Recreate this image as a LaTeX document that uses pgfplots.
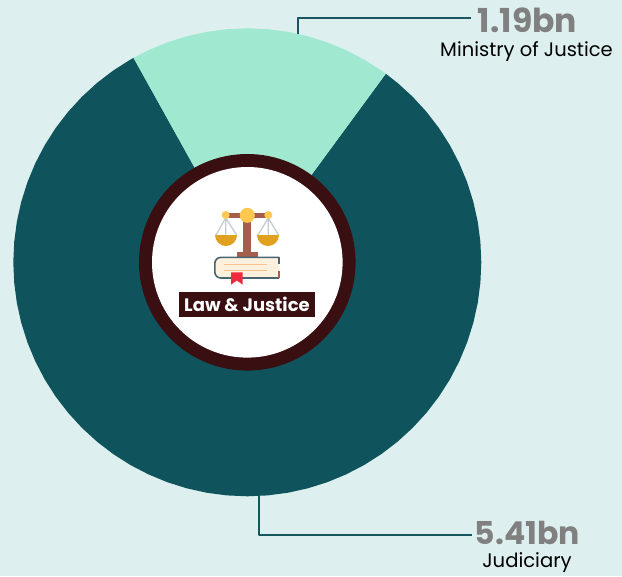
\documentclass[border=0pt]{standalone}
\usepackage{pgfplots}
\pgfplotsset{compat=1.18}
\usepgfplotslibrary{polar}
\usepackage{fontspec}
\setmainfont{Poppins}
\definecolor{bgc}{HTML}{DDF0EF}
\definecolor{darkw}{HTML}{0F545C}
\definecolor{lightw}{HTML}{A0E9D0}
\definecolor{ringc}{HTML}{3A0F12}
\definecolor{leadc}{HTML}{14575F}
\definecolor{numc}{HTML}{808080}
\definecolor{brownc}{HTML}{A65E4C}
\definecolor{goldc}{HTML}{FFC850}
\definecolor{panc}{HTML}{E0A020}
\definecolor{stringc}{HTML}{C5CCD3}
\definecolor{slatec}{HTML}{4A6572}
\definecolor{pagec}{HTML}{FDF0DC}
\definecolor{linec}{HTML}{F5C28B}
\definecolor{redc}{HTML}{F0293E}
\pgfplotsset{px/.style={scale only axis,width=622pt,height=576pt,xmin=0,xmax=622,ymin=0,ymax=576,y dir=reverse,axis lines=none,clip=false,at={(0pt,0pt)},anchor=south west}}
\begin{document}
\begin{tikzpicture}
% background and leader lines
\begin{axis}[px,axis background/.style={fill=bgc}]
\addplot[leadc,line width=2.2pt,line join=round,mark=none] coordinates {(298.3,40) (298.3,18.3) (471,18.3)};
\addplot[leadc,line width=2.2pt,line join=round,mark=none] coordinates {(259.3,490) (259.3,535) (471.7,535)};
\end{axis}
% donut wedges: Ministry of Justice 1.19bn, Judiciary 5.41bn
\begin{polaraxis}[at={(247.3pt,313.7pt)},anchor=center,scale only axis,width=468pt,height=468pt,
  xmin=0,xmax=360,ymin=0,ymax=234,hide axis,clip=false]
\addplot[fill=darkw,draw=none,mark=none] coordinates {(53.7,0) (119.1,234) (120,234) (125,234) (130,234) (135,234) (140,234) (145,234) (150,234) (155,234) (160,234) (165,234) (170,234) (175,234) (180,234) (185,234) (190,234) (195,234) (200,234) (205,234) (210,234) (215,234) (220,234) (225,234) (230,234) (235,234) (240,234) (245,234) (250,234) (255,234) (260,234) (265,234) (270,234) (275,234) (280,234) (285,234) (290,234) (295,234) (300,234) (305,234) (310,234) (315,234) (320,234) (325,234) (330,234) (335,234) (340,234) (345,234) (350,234) (355,234) (360,234) (5,234) (10,234) (15,234) (20,234) (25,234) (30,234) (35,234) (40,234) (45,234) (50,234) (53.7,234)} -- cycle;
\addplot[fill=lightw,draw=none,mark=none] coordinates {(0,0) (53.7,234) (55,234) (60,234) (65,234) (70,234) (75,234) (80,234) (85,234) (90,234) (95,234) (100,234) (105,234) (110,234) (115,234) (119.1,234)} -- cycle;
\end{polaraxis}
% centre badge and labels
\begin{axis}[px]
\fill[ringc] (axis cs:247.3,262.3) circle[radius=108.3pt];
\fill[white] (axis cs:247.3,262.3) circle[radius=95.3pt];
% scales
\draw[stringc,line width=1.3pt] (axis cs:225.7,218)--(axis cs:216,235) (axis cs:225.7,218)--(axis cs:225.7,235) (axis cs:225.7,218)--(axis cs:236.7,235) (axis cs:268.3,218)--(axis cs:258,235) (axis cs:268.3,218)--(axis cs:268.3,235) (axis cs:268.3,218)--(axis cs:278.5,235);
\fill[panc] (axis cs:215,235) -- (axis cs:237,235) arc[start angle=0,end angle=-180,radius=11pt] -- cycle;
\fill[panc] (axis cs:257,235) -- (axis cs:279,235) arc[start angle=0,end angle=-180,radius=11pt] -- cycle;
\fill[brownc] (axis cs:242.7,215) rectangle (axis cs:250.7,253);
\fill[brownc] (axis cs:225,212.7) rectangle (axis cs:268,218);
\fill[brownc] (axis cs:236.7,252) rectangle (axis cs:258.3,257);
\fill[goldc] (axis cs:225.7,215) circle[radius=4pt] (axis cs:268.3,215) circle[radius=4pt] (axis cs:247.3,215.3) circle[radius=7.5pt];
% book
\draw[slatec,line width=1.6pt,fill=pagec,rounded corners=6pt] (axis cs:279,257.4) -- (axis cs:214.8,257.4) -- (axis cs:214.8,278) -- (axis cs:279,278);
\draw[slatec,line width=1.6pt] (axis cs:279,257.4) -- (axis cs:279,264);
\draw[brownc,line width=1.2pt] (axis cs:279,271) -- (axis cs:279,278);
\draw[linec,line width=1.2pt] (axis cs:224,264.3) -- (axis cs:267,264.3) (axis cs:224,270.7) -- (axis cs:267,270.7);
\fill[redc] (axis cs:231,272.3) -- (axis cs:242.7,272.3) -- (axis cs:242.7,284.7) -- (axis cs:236.8,280.5) -- (axis cs:231,284.7) -- cycle;
% label box
\fill[ringc] (axis cs:179,292) rectangle (axis cs:315,317);
\node[white,font=\fontsize{18}{20}\selectfont\bfseries,anchor=center] at (axis cs:247,304.5) {Law \& Justice};
% labels
\node[numc,font=\fontsize{33}{36}\selectfont\bfseries,anchor=center] at (axis cs:527.5,20) {1.19bn};
\node[black,font=\fontsize{19.5}{22}\selectfont,anchor=center] at (axis cs:526.5,52) {Ministry of Justice};
\node[numc,font=\fontsize{31.5}{34}\selectfont\bfseries,anchor=center] at (axis cs:527.5,533) {5.41bn};
\node[black,font=\fontsize{19.6}{22}\selectfont,anchor=center] at (axis cs:527,563) {Judiciary};
\end{axis}
\end{tikzpicture}
\end{document}
